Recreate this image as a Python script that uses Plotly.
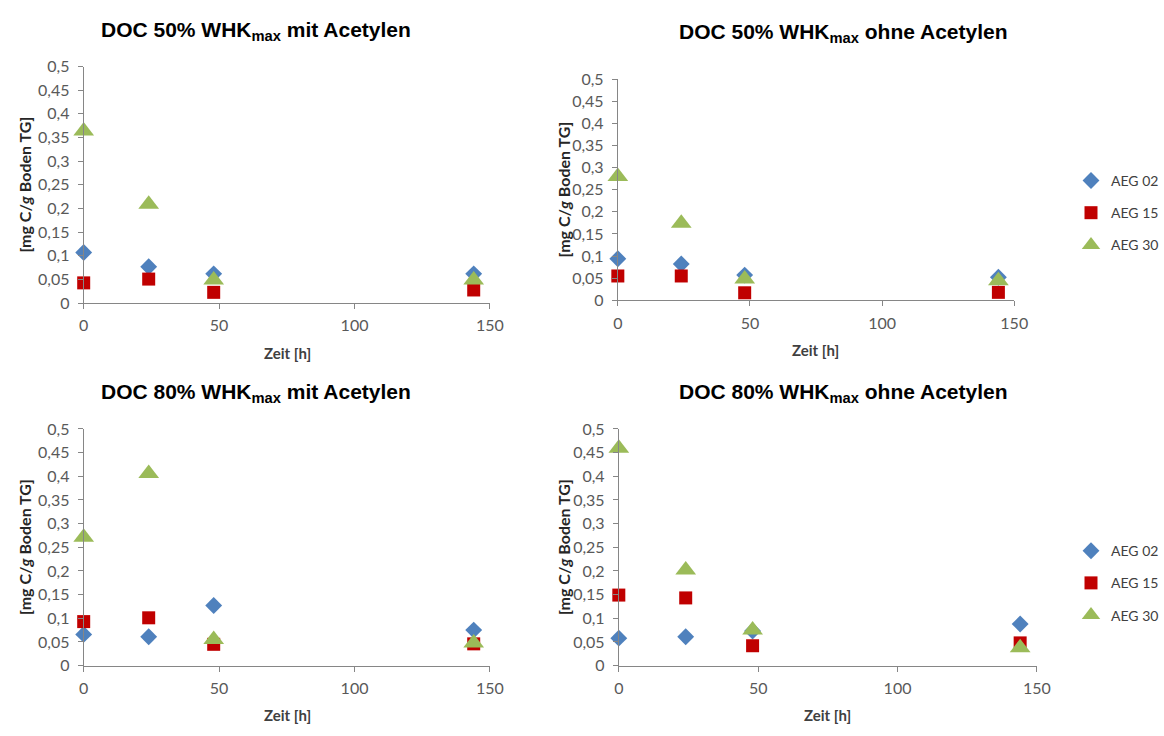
import plotly.graph_objects as go

# Sampling times (h)
zeit = [0, 24, 48, 144]

# DOC [mg C / g Boden TG] per panel and soil
p1_aeg02 = [0.107, 0.077, 0.062, 0.062]
p1_aeg15 = [0.043, 0.051, 0.023, 0.028]
p1_aeg30 = [0.364, 0.209, 0.049, 0.049]

p2_aeg02 = [0.094, 0.082, 0.057, 0.052]
p2_aeg15 = [0.055, 0.055, 0.017, 0.018]
p2_aeg30 = [0.280, 0.174, 0.048, 0.044]

p3_aeg02 = [0.066, 0.061, 0.127, 0.075]
p3_aeg15 = [0.093, 0.101, 0.045, 0.046]
p3_aeg30 = [0.271, 0.406, 0.055, 0.048]

p4_aeg02 = [0.058, 0.061, 0.073, 0.088]
p4_aeg15 = [0.149, 0.143, 0.042, 0.048]
p4_aeg30 = [0.459, 0.202, 0.075, 0.038]

series_names = ["AEG 02", "AEG 15", "AEG 30"]
panel_titles = [
    "DOC 50% WHK<sub>max</sub> mit Acetylen",
    "DOC 50% WHK<sub>max</sub> ohne Acetylen",
    "DOC 80% WHK<sub>max</sub> mit Acetylen",
    "DOC 80% WHK<sub>max</sub> ohne Acetylen",
]
y_ticks = [0, 0.05, 0.1, 0.15, 0.2, 0.25, 0.3, 0.35, 0.4, 0.45, 0.5]
x_ticks = [0, 50, 100, 150]

W, H = 1164, 736
colors = ["#4F81BD", "#C00000", "#9BBB59"]
symbols = ["diamond", "square", "triangle-up"]
sizes = [13, 13, 18]

# data, plot box in px (x0, x1, ytop, ybottom), legend,
# title centre (x, y), x-title centre x, y-title x
panels = [
    ([p1_aeg02, p1_aeg15, p1_aeg30], (80, 493, 58, 301), None, (255, 22), 287, 20),
    ([p2_aeg02, p2_aeg15, p2_aeg30], (623, 1026, 71, 298), "legend", (852, 24), 824, 568),
    ([p3_aeg02, p3_aeg15, p3_aeg30], (80, 493, 430, 673), None, (255, 393), 287, 20),
    ([p4_aeg02, p4_aeg15, p4_aeg30], (624, 1049, 430, 673), "legend2", (852, 393), 836, 568),
]

TICK_FONT = dict(family="Lato, Open Sans, sans-serif", size=16, color="#595959")
AXIS_COLOR = "#868686"

fig = go.Figure()
layout = {}
annotations = []

for i, (data, box, leg, tpos, xt_x, yt_x) in enumerate(panels):
    n = i + 1
    xa = "x" if n == 1 else f"x{n}"
    ya = "y" if n == 1 else f"y{n}"
    x0, x1, yt, yb = box
    for k, vals in enumerate(data):
        tr = dict(
            x=zeit, y=vals, mode="markers", name=series_names[k],
            xaxis=xa, yaxis=ya, cliponaxis=False,
            marker=dict(color=colors[k], symbol=symbols[k], size=sizes[k],
                        line=dict(width=0)),
            showlegend=leg is not None,
            legendgroup=f"{leg}_{k}",
        )
        if leg is not None:
            tr["legend"] = leg
        fig.add_trace(go.Scatter(**tr))

    xkey = "xaxis" if n == 1 else f"xaxis{n}"
    ykey = "yaxis" if n == 1 else f"yaxis{n}"
    layout[xkey] = dict(
        domain=[x0 / W, x1 / W], range=[0, 150], anchor=ya,
        tickvals=x_ticks, ticks="outside", ticklen=5, tickcolor=AXIS_COLOR,
        showline=True, linecolor=AXIS_COLOR, linewidth=1, ticklabelstandoff=3,
        showgrid=False, zeroline=False, tickfont=TICK_FONT, fixedrange=True,
    )
    layout[ykey] = dict(
        domain=[1 - yb / H, 1 - yt / H], range=[0, 0.5], anchor=xa,
        tickvals=y_ticks, ticks="outside", ticklen=5, tickcolor=AXIS_COLOR,
        showline=True, linecolor=AXIS_COLOR, linewidth=1, ticklabelstandoff=5,
        showgrid=False, zeroline=False, tickfont=TICK_FONT, fixedrange=True,
    )

    # panel title
    annotations.append(dict(
        text=f"<b>{panel_titles[i]}</b>", xref="paper", yref="paper",
        x=tpos[0] / W, y=1 - tpos[1] / H,
        xanchor="center", yanchor="middle", showarrow=False,
        font=dict(family="Liberation Sans, Arial, sans-serif", size=21, color="#000000"),
    ))
    # x axis title
    annotations.append(dict(
        text="<b>Zeit [h]</b>", xref="paper", yref="paper",
        x=xt_x / W, y=1 - (yb + 51) / H,
        xanchor="center", yanchor="middle", showarrow=False,
        font=dict(family="Lato, sans-serif", size=15, color="#404040"),
    ))
    # y axis title
    annotations.append(dict(
        text="<b>[mg C/<i>g</i> Boden TG]</b>", xref="paper", yref="paper",
        x=yt_x / W, y=1 - ((yt + yb) / 2) / H,
        xanchor="center", yanchor="middle", showarrow=False, textangle=-90,
        font=dict(family="Lato, sans-serif", size=16, color="#262626"),
    ))

legend_style = dict(
    font=dict(family="Lato, sans-serif", size=14, color="#404040"),
    bgcolor="rgba(0,0,0,0)", traceorder="grouped", tracegroupgap=11,
    itemwidth=30, xanchor="left", yanchor="top",
)

fig.update_layout(
    width=W, height=H,
    margin=dict(l=0, r=0, t=0, b=0),
    paper_bgcolor="white", plot_bgcolor="white",
    separators=",.",
    annotations=annotations,
    legend=dict(x=1084 / W, y=1 - 159 / H, **legend_style),
    legend2=dict(x=1084 / W, y=1 - 539 / H, **legend_style),
    **layout,
)

fig.write_html("out.html")
